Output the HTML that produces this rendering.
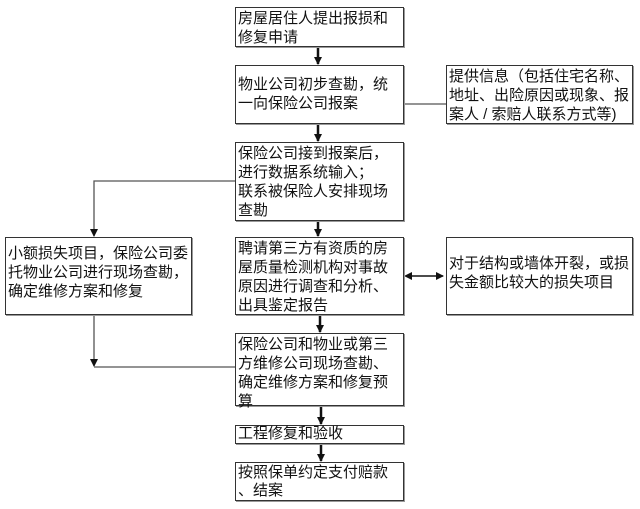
<!DOCTYPE html>
<html><head><meta charset="utf-8"><style>
body{margin:0;width:640px;height:509px;background:#fff;position:relative;overflow:hidden;font-family:"Liberation Sans","Noto Sans CJK SC",sans-serif;}
.b{position:absolute;box-sizing:border-box;border:1.5px solid #333;background:#fff;font-size:15px;line-height:19px;padding:1px 2px;color:#111;letter-spacing:0px;box-shadow:1px 1px 0 #999;}
svg{position:absolute;left:0;top:0}
</style></head><body>
<svg width="640" height="509">
<defs><marker id="a" markerWidth="6" markerHeight="6" refX="5" refY="3" orient="auto" markerUnits="strokeWidth"><path d="M0,0 L6,3 L0,6 z" fill="#111"/></marker>
<marker id="s" markerWidth="8" markerHeight="8" refX="7" refY="4" orient="auto" markerUnits="userSpaceOnUse"><path d="M0,0 L8,4 L0,8 z" fill="#111"/></marker></defs>
<g stroke="#111" stroke-width="2.5">
<line x1="318" y1="46" x2="318" y2="64" marker-end="url(#s)"/>
<line x1="318" y1="123" x2="318" y2="141" marker-end="url(#s)"/>
<line x1="318" y1="220" x2="318" y2="236" marker-end="url(#s)"/>
<line x1="320" y1="314" x2="320" y2="332" marker-end="url(#s)"/>
<line x1="321" y1="405" x2="321" y2="424" marker-end="url(#s)"/>
<line x1="321" y1="443" x2="321" y2="461" marker-end="url(#s)"/>
</g>
<g stroke="#555" stroke-width="1.3" fill="none">
<line x1="404" y1="104" x2="446" y2="104"/>
<polyline points="235,181 94,181 94,236" marker-end="url(#s)"/>
<line x1="94" y1="314" x2="94" y2="366" marker-end="url(#s)"/>
<line x1="94" y1="367" x2="235" y2="367"/>
<line x1="406" y1="276" x2="443" y2="276" stroke="#111" stroke-width="1.5" marker-end="url(#s)" marker-start="url(#s2)"/>
</g>
<path d="M404,276 L412,272 L412,280 z" fill="#111"/>
</svg>
<div class="b" style="left:235px;top:7px;width:169px;height:40px">房屋居住人提出报损和<br>修复申请</div>
<div class="b" style="left:235px;top:65px;width:169px;height:59px;padding-top:9px">物业公司初步查勘，统<br>一向保险公司报案</div>
<div class="b" style="left:446px;top:65px;width:187px;height:59px">提供信息（包括住宅名称、<br>地址、出险原因或现象、报<br>案人 / 索赔人联系方式等)</div>
<div class="b" style="left:235px;top:142px;width:169px;height:79px">保险公司接到报案后，<br>进行数据系统输入；<br>联系被保险人安排现场<br>查勘</div>
<div class="b" style="left:5px;top:237px;width:187px;height:78px;padding-top:6px">小额损失项目，保险公司委<br>托物业公司进行现场查勘，<br>确定维修方案和修复</div>
<div class="b" style="left:235px;top:237px;width:169px;height:78px">聘请第三方有资质的房<br>屋质量检测机构对事故<br>原因进行调查和分析、<br>出具鉴定报告</div>
<div class="b" style="left:446px;top:237px;width:187px;height:78px;padding-top:16px">对于结构或墙体开裂，或损<br>失金额比较大的损失项目</div>
<div class="b" style="left:235px;top:333px;width:169px;height:73px">保险公司和物业或第三<br>方维修公司现场查勘、<br>确定维修方案和修复预<br>算</div>
<div class="b" style="left:235px;top:425px;width:169px;height:19px;line-height:16px;padding-top:0">工程修复和验收</div>
<div class="b" style="left:235px;top:462px;width:169px;height:39px;line-height:18px">按照保单约定支付赔款<br>、结案</div>
</body></html>
